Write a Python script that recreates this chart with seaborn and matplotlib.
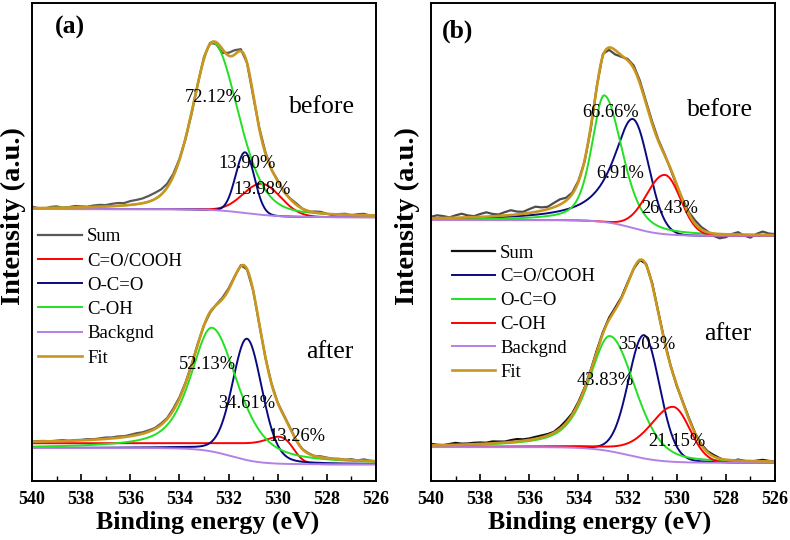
import numpy as np
import pandas as pd
import seaborn as sns
import matplotlib.pyplot as plt
from matplotlib.ticker import MultipleLocator

# O 1s peak fits
# each peak: [position eV, height, fwhm high-BE side, fwhm low-BE side, lorentz share high side, lorentz share low side]
names = ['C=O/COOH', 'O-C=O', 'C-OH']

a_before_peaks = [[530.64, 6.5, 1.8, 1.8, 0.0, 0.0],
                  [531.33, 12.7, 0.9, 0.9, 0.0, 0.0],
                  [532.63, 35.0, 2.0, 2.4, 0.3, 0.3]]
a_before_bg = [56.9, 55.2, 531.3, 0.7]      # left level, right level, step centre, step width
a_after_peaks = [[529.85, 1.6, 1.2, 1.2, 0.0, 0.0],
                 [531.25, 25.4, 1.4, 1.45, 0.2, 0.2],
                 [532.67, 25.9, 2.05, 2.5, 0.6, 0.6]]
a_after_bg = [6.9, 3.5, 531.9, 0.6]
a_after_red_base = [7.9, 3.5, 529.35, 0.2]

b_before_peaks = [[531.78, 22.8, 1.9, 1.5, 0.9, 0.0],
                  [532.95, 26.5, 1.2, 1.7, 0.5, 0.4],
                  [530.48, 12.4, 1.8, 1.5, 0.0, 0.0]]
b_before_bg = [54.6, 51.3, 531.8, 0.6]
b_after_peaks = [[531.33, 25.8, 1.5, 1.5, 0.1, 0.1],
                 [532.71, 24.1, 2.04, 2.4, 0.6, 0.3],
                 [530.15, 11.5, 2.3, 1.6, 0.4, 0.0]]
b_after_bg = [7.1, 3.8, 532.0, 0.7]

# raw data minus fit, every 0.25 eV from 540 to 526
raw_energy = np.linspace(540, 526, 57)
a_before_dev = [0.3, 0.0, -0.2, 0.2, 0.3, 0.0, 0.1, 0.3,
                0.2, 0.1, 0.3, 0.4, 0.3, 0.5, 0.6, 0.5,
                0.8, 0.9, 1.0, 1.2, 1.3, 1.1, 0.8, 0.5,
                0.2, -0.2, -0.4, 0.0, 0.4, 0.2, -0.4, -0.8,
                0.6, 0.9, 0.4, 0.0, -0.4, 0.2, 0.3, -0.1,
                0.2, -0.2, 0.1, 0.3, 0.0, -0.2, 0.2, 0.3,
                0.0, -0.2, 0.1, 0.2, -0.1, 0.2, 0.3, 0.0,
                0.1]
a_after_dev = [0.0, 0.1, 0.1, 0.0, 0.1, 0.2, 0.0, 0.1,
               0.1, 0.2, 0.1, 0.2, 0.3, 0.2, 0.3, 0.2,
               0.3, 0.4, 0.3, 0.3, 0.2, 0.3, 0.2, 0.4,
               0.3, 0.2, 0.1, 0.2, 0.0, -0.2, 0.1, 0.3,
               0.3, 0.1, 0.2, -0.1, 0.0, -0.2, -0.1, 0.1,
               0.0, 0.2, 0.1, 0.0, 0.0, 0.1, 0.0, 0.2,
               0.1, 0.0, 0.1, 0.0, 0.2, 0.0, 0.3, 0.1,
               0.0]
b_before_dev = [0.3, 0.6, 0.4, 0.1, 0.5, 0.8, 0.4, 0.2,
                0.6, 0.9, 0.5, 0.3, 0.7, 1.0, 0.6, 0.4,
                0.8, 1.1, 0.7, 0.5, 0.9, 1.1, 0.6, 0.3,
                0.2, -0.3, -0.5, 0.1, 0.3, -0.5, -0.9, -0.3,
                0.3, 0.6, 0.6, 0.5, 0.5, 0.3, 0.2, -0.2,
                -0.3, 0.1, 0.4, 0.7, 0.5, 0.2, -0.5, -0.9,
                -0.6, 0.1, 0.5, -0.2, -0.6, 0.2, 0.7, 0.3,
                0.2]
b_after_dev = [0.3, 0.1, 0.0, 0.2, 0.4, 0.2, 0.2, 0.3,
               0.3, 0.2, 0.4, 0.3, 0.2, 0.4, 0.5, 0.3,
               0.3, 0.4, 0.4, 0.3, 0.2, 0.4, 0.5, 0.3,
               0.3, 0.2, 0.2, 0.3, 0.3, 0.4, 0.4, 0.2,
               0.2, 0.0, 0.0, 0.2, 0.3, 0.2, 0.2, 0.0,
               -0.2, 0.1, 0.2, 0.1, 0.1, 0.2, 0.3, 0.1,
               -0.3, -0.1, 0.2, 0.0, -0.2, 0.1, 0.3, 0.1,
               0.0]

a_pct_before = ['13.98%', '13.90%', '72.12%']
a_pct_after = ['13.26%', '34.61%', '52.13%']
b_pct_before = ['6.91%', '66.66%', '26.43%']
b_pct_after = ['35.03%', '43.83%', '21.15%']

# label positions (energy, intensity)
a_pct_before_xy = [(530.64, 60.9), (531.25, 66.5), (532.63, 80.3)]
a_pct_after_xy = [(529.21, 9.4), (531.25, 16.3), (532.84, 24.3)]
b_pct_before_xy = [(532.31, 64.4), (532.71, 77.0), (530.27, 57.1)]
b_pct_after_xy = [(531.21, 28.5), (532.92, 21.1), (529.99, 8.2)]

RED, NAVY, GREEN = '#FF0000', '#0A0A80', '#22E022'
PURPLE, GOLD = '#B580E6', '#C9961F'


def peak(x, p):
    pos, h, wl, wr, el, er = p
    hi = x >= pos
    w = np.where(hi, wl, wr)
    eta = np.where(hi, el, er)
    g = np.exp(-4 * np.log(2) * ((x - pos) / w) ** 2)
    lor = 1 / (1 + (2 * (x - pos) / w) ** 2)
    return h * ((1 - eta) * g + eta * lor)


def step(x, b):
    left, right, c, k = b
    return right + (left - right) / (1 + np.exp(-(x - c) / k))


def curves(x, peaks, bg, base):
    back = step(x, bg)
    comps = [back + peak(x, p) for p in peaks]
    if base is not None:
        comps[0] = step(x, base) + peak(x, peaks[0])
    fit = back + sum(c - back for c in comps)
    return back, comps, fit


def draw(ax, peaks, bg, dev, colors, sum_color, base=None, legend=False):
    x = np.linspace(540, 526, 700)
    back, comps, fit = curves(x, peaks, bg, base)
    raw = curves(raw_energy, peaks, bg, base)[2] + np.array(dev)

    lab = (lambda s: s) if legend else (lambda s: None)
    sns.lineplot(x=raw_energy, y=raw, ax=ax, color=sum_color, lw=1.6, label=lab('Sum'), sort=False)
    for i in range(3):
        sns.lineplot(x=x, y=comps[i], ax=ax, color=colors[i], lw=1.4, label=lab(names[i]), sort=False)
    sns.lineplot(x=x, y=back, ax=ax, color=PURPLE, lw=1.4, label=lab('Backgnd'), sort=False)
    sns.lineplot(x=x, y=fit, ax=ax, color=GOLD, lw=1.9, label=lab('Fit'), sort=False)


plt.rcParams['font.family'] = ['Liberation Serif', 'DejaVu Serif']
fig = plt.figure(figsize=(7.9, 5.4), dpi=100)
ax_a = fig.add_axes([32 / 790, 59 / 540, 344 / 790, 478 / 540])
ax_b = fig.add_axes([431 / 790, 59 / 540, 344 / 790, 478 / 540])

draw(ax_a, a_before_peaks, a_before_bg, a_before_dev, [RED, NAVY, GREEN], '#595959')
draw(ax_a, a_after_peaks, a_after_bg, a_after_dev, [RED, NAVY, GREEN], '#595959',
     base=a_after_red_base, legend=True)
draw(ax_b, b_before_peaks, b_before_bg, b_before_dev, [NAVY, GREEN, RED], '#4d4d4d')
draw(ax_b, b_after_peaks, b_after_bg, b_after_dev, [NAVY, GREEN, RED], '#111111', legend=True)

for ax, tag, tagxy, lbls, xys, bxy, axy, lx in [
        (ax_a, '(a)', (538.45, 94.8), a_pct_before + a_pct_after, a_pct_before_xy + a_pct_after_xy,
         (528.2, 78.2), (527.87, 27.0), 0.51),
        (ax_b, '(b)', (538.9, 94.1), b_pct_before + b_pct_after, b_pct_before_xy + b_pct_after_xy,
         (528.24, 77.6), (527.91, 30.8), 0.49)]:
    ax.set_xlim(540, 526)
    ax.set_ylim(0, 100)
    ax.set_yticks([])
    ax.xaxis.set_major_locator(MultipleLocator(2))
    ax.xaxis.set_minor_locator(MultipleLocator(1))
    ax.tick_params(axis='x', which='major', direction='in', length=5, width=1.2, pad=7,
                   labelsize=13)
    ax.tick_params(axis='x', which='minor', direction='in', length=3.5, width=1.0)
    for t in ax.get_xticklabels():
        t.set_fontweight('bold')
    for s in ax.spines.values():
        s.set_linewidth(1.4)
    ax.text(*tagxy, tag, fontsize=18.5, fontweight='bold', ha='center', va='center')
    ax.text(*bxy, 'before', fontsize=18.5, ha='center', va='center')
    ax.text(*axy, 'after', fontsize=18.5, ha='center', va='center')
    for s, (ex, ey) in zip(lbls, xys):
        ax.text(ex, ey, s, fontsize=13.3, ha='center', va='center')
    ax.set_xlabel('Binding energy (eV)', fontsize=18.6, fontweight='bold')
    ax.xaxis.set_label_coords(lx, -0.062)
    ax.set_ylabel('Intensity (a.u.)', fontsize=20.5, fontweight='bold')

ax_a.yaxis.set_label_coords(-0.016, 0.554)
ax_b.yaxis.set_label_coords(-0.032, 0.554)

ax_a.legend(loc='upper left', bbox_to_anchor=(0.017, 0.529), frameon=False, fontsize=13.5,
            handlelength=2.35, handletextpad=0.27, labelspacing=0.38, borderpad=0, borderaxespad=0)
ax_b.legend(loc='upper left', bbox_to_anchor=(0.061, 0.495), frameon=False, fontsize=13.5,
            handlelength=2.3, handletextpad=0.27, labelspacing=0.36, borderpad=0, borderaxespad=0)

fig.savefig('out.png', dpi=100)
